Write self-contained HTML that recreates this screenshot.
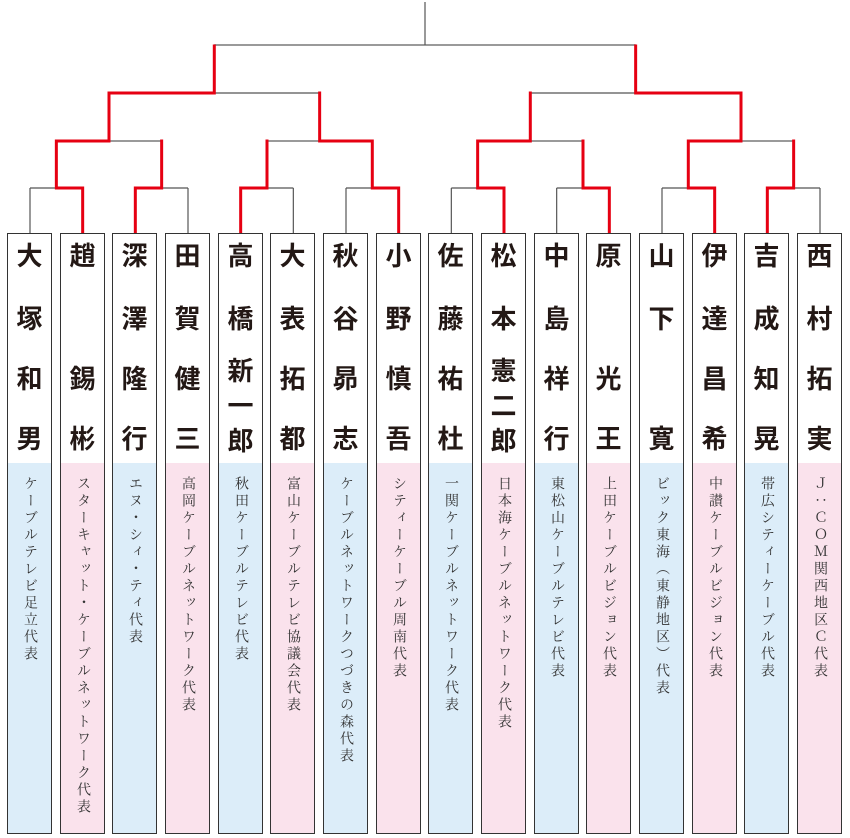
<!DOCTYPE html>
<html><head><meta charset="utf-8"><style>
body{margin:0;background:#fff;width:850px;height:838px;position:relative;overflow:hidden;font-family:"Liberation Sans","Noto Sans CJK JP",sans-serif}
.box{position:absolute;top:233px;width:43px;height:599px;border:1.5px solid #333;background:#fff}
.desc{position:absolute;left:0;right:0;top:229px;bottom:0}
.b{background:#dcedf9}.p{background:#fae2ec}
.n{position:absolute;left:0;width:43px;text-align:center;font-size:26px;font-weight:bold;color:#231815;line-height:30px}
.t{position:absolute;top:13px;left:0;width:43px;writing-mode:vertical-rl;font-family:"Liberation Serif","Noto Serif CJK JP",serif;font-size:14px;letter-spacing:3px;color:#333;display:flex;align-items:center;line-height:43px}
</style></head><body>
<svg width="850" height="240" style="position:absolute;left:0;top:0" fill="none">
<g stroke="#9a9a9a" stroke-width="2">
<line x1="214.3" y1="45" x2="635.65" y2="45"/>
<line x1="109" y1="141" x2="161.65" y2="141"/>
<line x1="267" y1="141" x2="319.65" y2="141"/>
<line x1="530.3" y1="141" x2="583" y2="141"/>
<line x1="741" y1="141" x2="793.65" y2="141"/>
</g>
<g stroke="#555" stroke-width="1.2">
<line x1="425" y1="2" x2="425" y2="45"/>
<line x1="214.3" y1="93" x2="319.65" y2="93"/>
<line x1="530.3" y1="93" x2="635.65" y2="93"/>
<line x1="30" y1="188" x2="56.35" y2="188"/><line x1="30" y1="188" x2="30" y2="233"/>
<line x1="161.65" y1="188" x2="188" y2="188"/><line x1="188" y1="188" x2="188" y2="233"/>
<line x1="267" y1="188" x2="293.33" y2="188"/><line x1="293.33" y1="188" x2="293.33" y2="233"/>
<line x1="346" y1="188" x2="372.3" y2="188"/><line x1="346" y1="188" x2="346" y2="233"/>
<line x1="451.33" y1="188" x2="477.65" y2="188"/><line x1="451.33" y1="188" x2="451.33" y2="233"/>
<line x1="556.67" y1="188" x2="583" y2="188"/><line x1="556.67" y1="188" x2="556.67" y2="233"/>
<line x1="662" y1="188" x2="688.3" y2="188"/><line x1="662" y1="188" x2="662" y2="233"/>
<line x1="793.65" y1="188" x2="820" y2="188"/><line x1="820" y1="188" x2="820" y2="233"/>
</g>
<g stroke="#e60012" stroke-width="3" stroke-linejoin="miter" stroke-linecap="square">
<polyline points="214.3,46 214.3,93 109,93 109,141 56.35,141 56.35,188 82.67,188 82.67,232"/>
<polyline points="109,141 109,93"/>
<polyline points="161.65,141 161.65,188 135.33,188 135.33,232"/>
<polyline points="319.65,93 319.65,141 372.3,141 372.3,188 398.67,188 398.67,232"/>
<polyline points="267,141 267,188 240.67,188 240.67,232"/>
<polyline points="635.65,46 635.65,93 741,93 741,141 688.3,141 688.3,188 714.67,188 714.67,232"/>
<polyline points="793.65,141 793.65,188 767.33,188 767.33,232"/>
<polyline points="530.3,93 530.3,141 477.65,141 477.65,188 504,188 504,232"/>
<polyline points="583,141 583,188 609.33,188 609.33,232"/>
</g>
</svg>

<div class="box" style="left:7px"><div class="n" style="top:7px">大</div><div class="n" style="top:70px">塚</div><div class="n" style="top:130px">和</div><div class="n" style="top:190px">男</div><div class="desc b"><div class="t">ケーブルテレビ足立代表</div></div></div>
<div class="box" style="left:60px"><div class="n" style="top:7px">趙</div><div class="n" style="top:130px">錫</div><div class="n" style="top:190px">彬</div><div class="desc p"><div class="t">スターキャット・ケーブルネットワーク代表</div></div></div>
<div class="box" style="left:112px"><div class="n" style="top:7px">深</div><div class="n" style="top:70px">澤</div><div class="n" style="top:130px">隆</div><div class="n" style="top:190px">行</div><div class="desc b"><div class="t">エヌ・シィ・ティ代表</div></div></div>
<div class="box" style="left:165px"><div class="n" style="top:7px">田</div><div class="n" style="top:70px">賀</div><div class="n" style="top:130px">健</div><div class="n" style="top:190px">三</div><div class="desc p"><div class="t">高岡ケーブルネットワーク代表</div></div></div>
<div class="box" style="left:218px"><div class="n" style="top:7px">高</div><div class="n" style="top:70px">橋</div><div class="n" style="top:122px">新</div><div class="n" style="top:157px">一</div><div class="n" style="top:192px">郎</div><div class="desc b"><div class="t">秋田ケーブルテレビ代表</div></div></div>
<div class="box" style="left:270px"><div class="n" style="top:7px">大</div><div class="n" style="top:70px">表</div><div class="n" style="top:130px">拓</div><div class="n" style="top:190px">都</div><div class="desc p"><div class="t">富山ケーブルテレビ協議会代表</div></div></div>
<div class="box" style="left:323px"><div class="n" style="top:7px">秋</div><div class="n" style="top:70px">谷</div><div class="n" style="top:130px">昴</div><div class="n" style="top:190px">志</div><div class="desc b"><div class="t">ケーブルネットワークつづきの森代表</div></div></div>
<div class="box" style="left:376px"><div class="n" style="top:7px">小</div><div class="n" style="top:70px">野</div><div class="n" style="top:130px">慎</div><div class="n" style="top:190px">吾</div><div class="desc p"><div class="t">シティーケーブル周南代表</div></div></div>
<div class="box" style="left:428px"><div class="n" style="top:7px">佐</div><div class="n" style="top:70px">藤</div><div class="n" style="top:130px">祐</div><div class="n" style="top:190px">杜</div><div class="desc b"><div class="t">一関ケーブルネットワーク代表</div></div></div>
<div class="box" style="left:481px"><div class="n" style="top:7px">松</div><div class="n" style="top:70px">本</div><div class="n" style="top:122px">憲</div><div class="n" style="top:157px">二</div><div class="n" style="top:192px">郎</div><div class="desc p"><div class="t">日本海ケーブルネットワーク代表</div></div></div>
<div class="box" style="left:534px"><div class="n" style="top:7px">中</div><div class="n" style="top:70px">島</div><div class="n" style="top:130px">祥</div><div class="n" style="top:190px">行</div><div class="desc b"><div class="t">東松山ケーブルテレビ代表</div></div></div>
<div class="box" style="left:586px"><div class="n" style="top:7px">原</div><div class="n" style="top:130px">光</div><div class="n" style="top:190px">王</div><div class="desc p"><div class="t">上田ケーブルビジョン代表</div></div></div>
<div class="box" style="left:639px"><div class="n" style="top:7px">山</div><div class="n" style="top:70px">下</div><div class="n" style="top:190px">寛</div><div class="desc b"><div class="t">ビック東海（東静地区）代表</div></div></div>
<div class="box" style="left:692px"><div class="n" style="top:7px">伊</div><div class="n" style="top:70px">達</div><div class="n" style="top:130px">昌</div><div class="n" style="top:190px">希</div><div class="desc p"><div class="t">中讃ケーブルビジョン代表</div></div></div>
<div class="box" style="left:744px"><div class="n" style="top:7px">吉</div><div class="n" style="top:70px">成</div><div class="n" style="top:130px">知</div><div class="n" style="top:190px">晃</div><div class="desc b"><div class="t">帯広シティーケーブル代表</div></div></div>
<div class="box" style="left:797px"><div class="n" style="top:7px">西</div><div class="n" style="top:70px">村</div><div class="n" style="top:130px">拓</div><div class="n" style="top:190px">実</div><div class="desc p"><div class="t">Ｊ：ＣＯＭ関西地区Ｃ代表</div></div></div>
</body></html>
